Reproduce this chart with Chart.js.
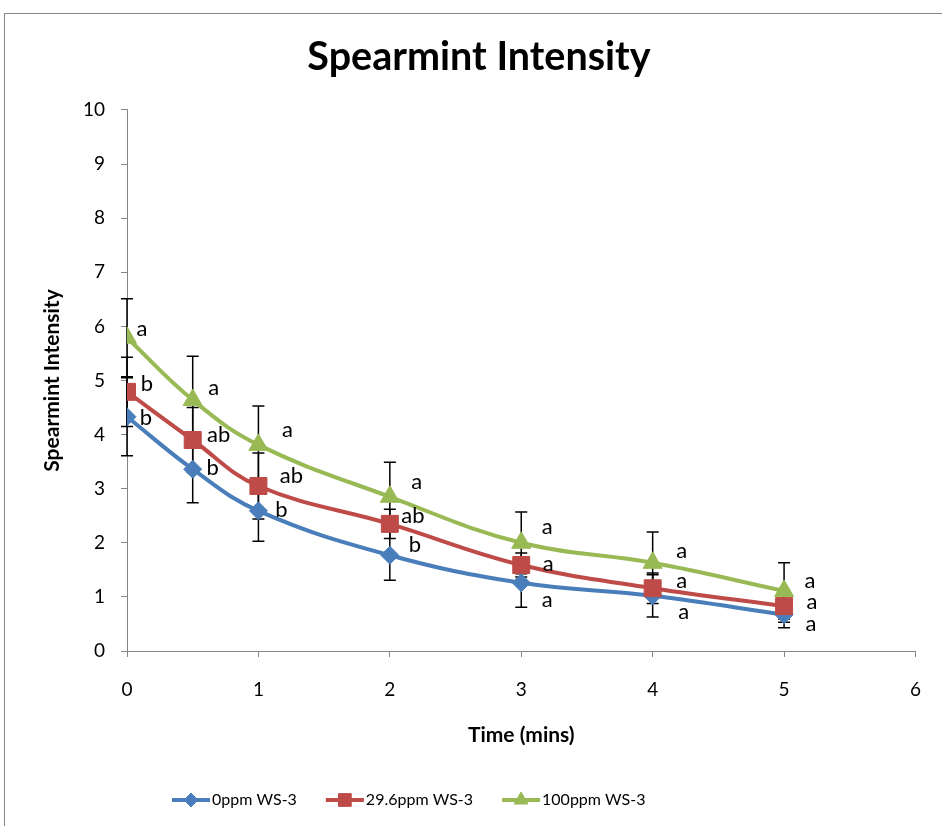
<!DOCTYPE html>
<html lang="en">
<head>
<meta charset="UTF-8">
<title>Spearmint Intensity</title>
<script src="https://cdn.jsdelivr.net/npm/chart.js@4.4.0/dist/chart.umd.min.js"></script>
<style>
  html, body { margin: 0; padding: 0; background: #fff; }
  #wrap { width: 942px; height: 826px; position: relative; }
</style>
</head>
<body>
<div id="wrap"><canvas id="chart" width="942" height="826"></canvas></div>
<script>
// time points (mins)
const times = [0, 0.5, 1, 2, 3, 4, 5];
const seriesNames = ['0ppm WS-3', '29.6ppm WS-3', '100ppm WS-3'];

// mean intensity per series
const ws0   = [4.33, 3.36, 2.59, 1.77, 1.26, 1.02, 0.67];
const ws29  = [4.79, 3.90, 3.05, 2.35, 1.59, 1.16, 0.83];
const ws100 = [5.79, 4.64, 3.81, 2.85, 2.00, 1.63, 1.11];

// error bar half-lengths
const err0   = [0.72, 0.62, 0.56, 0.46, 0.45, 0.39, 0.24];
const err29  = [0.64, 0.60, 0.61, 0.27, 0.22, 0.28, 0.30];
const err100 = [0.72, 0.81, 0.72, 0.64, 0.57, 0.57, 0.52];

// significance letters
const letters0   = ['b', 'b', 'b', 'b', 'a', 'a', 'a'];
const letters29  = ['b', 'ab', 'ab', 'ab', 'a', 'a', 'a'];
const letters100 = ['a', 'a', 'a', 'a', 'a', 'a', 'a'];

// axis ranges
const xMin = 0, xMax = 6, xStep = 1;
const yMin = 0, yMax = 10, yStep = 1;

// label offsets from the point (px), just for placement
const off0   = [[19, 1], [20, -1], [23, -1], [25, -10], [26, 17], [31, 16], [27, 9]];
const off29  = [[20, -8], [26, -5], [33, -10], [23, -8], [27, -1], [29, -7], [28, -4]];
const off100 = [[15, -9], [21, -12], [29, -15], [27, -15], [26, -16], [29, -12], [26, -10]];

const FONT = 'Lato';
const colors = ['#4A7EBB', '#BE4B48', '#98B954'];
const styles = ['rectRot', 'rect', 'triangle'];
const radii = [9, 12, 11];
const legendRadii = [7, 9, 8];

function pts(vals) {
    return vals.map((v, i) => ({ x: times[i], y: v }));
}

const series = [
    { name: seriesNames[0], vals: ws0, err: err0, letters: letters0, off: off0 },
    { name: seriesNames[1], vals: ws29, err: err29, letters: letters29, off: off29 },
    { name: seriesNames[2], vals: ws100, err: err100, letters: letters100, off: off100 }
];

// frame around the whole chart
const framePlugin = {
    id: 'frame',
    beforeDraw(chart) {
        const ctx = chart.ctx;
        ctx.save();
        ctx.fillStyle = '#fff';
        ctx.fillRect(0, 0, chart.width, chart.height);
        ctx.strokeStyle = '#868686';
        ctx.lineWidth = 1;
        ctx.strokeRect(4.5, 13.5, 1200, 1200);
        ctx.restore();
    }
};

// error bars, drawn under lines and markers
const errorBarPlugin = {
    id: 'errorBars',
    beforeDatasetsDraw(chart) {
        const ctx = chart.ctx;
        const xs = chart.scales.x, ys = chart.scales.y;
        ctx.save();
        ctx.strokeStyle = '#000';
        ctx.lineWidth = 1.5;
        chart.data.datasets.forEach(ds => {
            ds.data.forEach((p, j) => {
                const e = ds.errors[j];
                const px = xs.getPixelForValue(p.x);
                const top = ys.getPixelForValue(p.y + e);
                const bot = ys.getPixelForValue(p.y - e);
                ctx.beginPath();
                ctx.moveTo(px, top); ctx.lineTo(px, bot);
                ctx.moveTo(px - 6, top); ctx.lineTo(px + 6, top);
                ctx.moveTo(px - 6, bot); ctx.lineTo(px + 6, bot);
                ctx.stroke();
            });
        });
        ctx.restore();
    }
};

// letters beside each point
const letterPlugin = {
    id: 'letters',
    afterDatasetsDraw(chart) {
        const ctx = chart.ctx;
        ctx.save();
        ctx.fillStyle = '#000';
        ctx.font = 'normal 22px ' + FONT;
        ctx.textAlign = 'center';
        ctx.textBaseline = 'middle';
        chart.data.datasets.forEach((ds, i) => {
            const meta = chart.getDatasetMeta(i);
            meta.data.forEach((el, j) => {
                const o = ds.offsets[j];
                ctx.fillText(ds.letters[j], el.x + o[0], el.y + o[1]);
            });
        });
        ctx.restore();
    }
};

// legend in excel style: line with marker in the middle
const legendPlugin = {
    id: 'excelLegend',
    afterDraw(chart) {
        const ctx = chart.ctx;
        const y = 800;
        let x = 172;
        ctx.save();
        ctx.font = 'normal 16px ' + FONT;
        ctx.textBaseline = 'middle';
        ctx.textAlign = 'left';
        chart.data.datasets.forEach((ds, i) => {
            ctx.strokeStyle = colors[i];
            ctx.lineWidth = 4;
            ctx.beginPath();
            ctx.moveTo(x, y); ctx.lineTo(x + 38, y);
            ctx.stroke();
            ctx.fillStyle = colors[i];
            ctx.lineWidth = 1;
            Chart.helpers.drawPoint(ctx, { pointStyle: styles[i], radius: legendRadii[i], rotation: 0, borderWidth: 1 }, x + 19, y);
            ctx.fillStyle = '#000';
            ctx.fillText(ds.label, x + 40, y);
            x += 40 + ctx.measureText(ds.label).width + 29;
        });
        ctx.restore();
    }
};

const ctx = document.getElementById('chart').getContext('2d');
new Chart(ctx, {
    type: 'line',
    data: {
        datasets: series.map((s, i) => ({
            label: s.name,
            data: pts(s.vals),
            errors: s.err,
            letters: s.letters,
            offsets: s.off,
            borderColor: colors[i],
            backgroundColor: colors[i],
            borderWidth: 4,
            pointStyle: styles[i],
            pointRadius: radii[i],
            pointBorderWidth: 1,
            pointBorderColor: colors[i],
            pointBackgroundColor: colors[i],
            tension: 0.4,
            fill: false,
            order: 3 - i
        }))
    },
    options: {
        responsive: false,
        animation: false,
        layout: { padding: { left: 40, right: 24, top: 0, bottom: 67 } },
        plugins: {
            legend: { display: false },
            tooltip: { enabled: false },
            title: {
                display: true,
                text: 'Spearmint Intensity',
                color: '#000',
                font: { family: FONT, size: 39.5, weight: 'bold', lineHeight: 1.25 },
                padding: { top: 33, bottom: 27.6 }
            }
        },
        scales: {
            x: {
                type: 'linear',
                min: xMin, max: xMax,
                ticks: { stepSize: xStep, color: '#000', font: { family: FONT, size: 19 }, padding: 21 },
                grid: { drawOnChartArea: false, drawTicks: true, tickLength: 6, color: '#868686' },
                border: { color: '#868686' },
                title: {
                    display: true, text: 'Time (mins)', color: '#000',
                    font: { family: FONT, size: 21, weight: 'bold', lineHeight: 1.2 },
                    padding: { top: 0, bottom: 11 }
                },
                afterFit: s => { s.height = 108; }
            },
            y: {
                min: yMin, max: yMax,
                ticks: { stepSize: yStep, color: '#000', font: { family: FONT, size: 19 }, padding: 16 },
                grid: { drawOnChartArea: false, drawTicks: true, tickLength: 6, color: '#868686' },
                border: { color: '#868686' },
                title: {
                    display: true, text: 'Spearmint Intensity', color: '#000',
                    font: { family: FONT, size: 21, weight: 'bold', lineHeight: 1.2 },
                    padding: 0
                },
                afterFit: s => { s.width = 87; }
            }
        }
    },
    plugins: [framePlugin, errorBarPlugin, letterPlugin, legendPlugin]
});
</script>
</body>
</html>
